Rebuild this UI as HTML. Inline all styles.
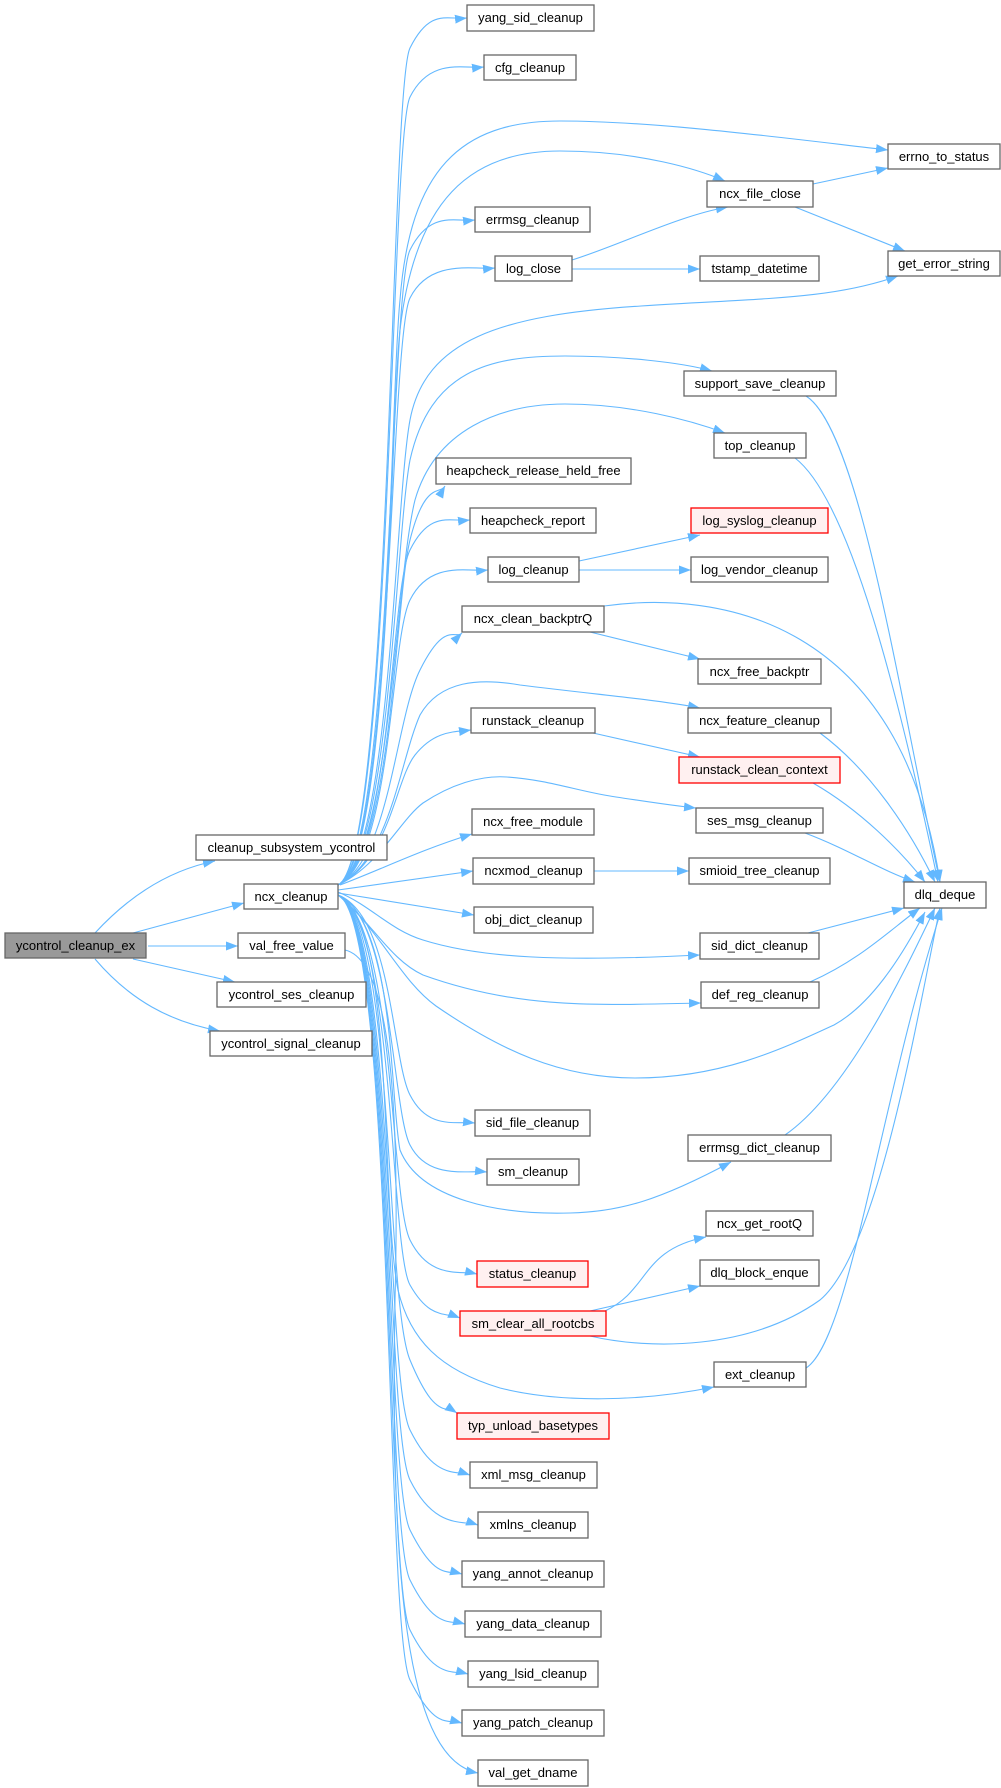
<!DOCTYPE html>
<html><head><meta charset="utf-8"><style>
html,body{margin:0;padding:0;background:#fff;}
svg{display:block;}
text{font-family:"Liberation Sans",Arial,sans-serif;font-size:13px;fill:#000;}
.n{fill:#fff;stroke:#666;stroke-width:1.3;}
.r{fill:#fff0f0;stroke:#f00;stroke-width:1.3;}
.m{fill:#999;stroke:#666;stroke-width:1.3;}
.e{fill:none;stroke:#63b8ff;stroke-width:1.1;marker-end:url(#a);}
</style></head><body>
<svg width="1001" height="1788" viewBox="0 0 1001 1788" xmlns="http://www.w3.org/2000/svg">
<defs><marker id="a" markerUnits="userSpaceOnUse" markerWidth="13" markerHeight="10" refX="12" refY="4.5" orient="auto"><path d="M0,0 L12,4.5 L0,9 z" fill="#63b8ff"/></marker></defs>
<g>
<path class="e" d="M95,933 C130,895 170,870 215,861"/>
<path class="e" d="M133,933 L244,903"/>
<path class="e" d="M148,946 L238,946"/>
<path class="e" d="M133,959 L235,982"/>
<path class="e" d="M95,959 C130,1000 170,1022 220,1031"/>
<path class="e" d="M345,950 C390,960 400,1100 395,1300 C390,1600 410,1760 478,1773"/>

<path class="e" d="M338,885 C392,860 390,88 410,48 S447,20 467,18"/>
<path class="e" d="M338,885 C392,860 390,137 410,97 S464,69 484,67"/>
<path class="e" d="M338,885 C392,860 390,290 410,250 S455,222 475,220"/>
<path class="e" d="M338,885 C392,860 390,338 410,298 S475,270 495,268"/>
<path class="e" d="M338,885 C392,860 395,600 410,540 S440,495 445,486"/>
<path class="e" d="M338,885 C392,860 390,590 410,550 S450,522 470,520"/>
<path class="e" d="M338,885 C392,860 390,640 410,600 S468,572 488,570"/>
<path class="e" d="M338,885 C390,860 395,720 420,670 S455,640 462,633"/>
<path class="e" d="M338,885 C390,860 395,780 415,755 S455,732 471,730"/>
<path class="e" d="M340,885 C380,870 420,850 472,834"/>
<path class="e" d="M338,890 L473,871"/>
<path class="e" d="M338,893 L474,915"/>

<path class="e" d="M338,885 C390,860 390,400 400,300 C410,170 460,121 560,121 C660,121 800,140 888,150"/>
<path class="e" d="M338,885 C390,860 390,420 400,330 C415,200 470,151 560,151 C640,151 700,170 725,181"/>
<path class="e" d="M338,885 C390,860 395,500 410,420 C425,340 500,315 641,306 C760,298 830,300 898,276"/>
<path class="e" d="M338,885 C390,860 395,540 410,460 C430,370 490,356 565,356 C620,356 680,362 712,371"/>
<path class="e" d="M338,885 C390,860 395,580 415,500 C435,430 500,404 565,404 C630,404 690,420 725,433"/>
<path class="e" d="M338,885 C390,860 400,760 420,715 C440,680 480,678 520,685 C600,695 660,700 700,708"/>
<path class="e" d="M338,885 C380,865 400,820 423,803 C450,785 480,775 507,777 C550,780 580,792 616,797 C650,802 675,806 696,808"/>
<path class="e" d="M338,892 C370,905 390,930 423,940 C480,958 560,962 700,955"/>
<path class="e" d="M338,895 C370,920 390,960 423,975 C520,1010 600,1005 701,1003"/>
<path class="e" d="M338,895 C380,930 400,980 436,1006 C500,1050 560,1078 635,1078 C720,1078 780,1050 834,1025 C870,1005 900,960 925,912"/>
<path class="e" d="M338,895 C392,915 392,1060 410,1095 S455,1121 475,1123"/>
<path class="e" d="M338,895 C392,915 392,1110 410,1145 S467,1170 487,1172"/>
<path class="e" d="M338,895 C395,920 390,1100 400,1150 C420,1200 500,1215 570,1213 C620,1212 660,1200 731,1162"/>
<path class="e" d="M338,895 C395,920 390,1200 410,1240 S460,1270 477,1274"/>
<path class="e" d="M338,895 C395,920 390,1250 410,1285 S445,1312 460,1318"/>
<path class="e" d="M338,895 C395,920 380,1200 398,1290 C410,1340 440,1370 500,1388 C560,1403 640,1402 714,1387"/>
<path class="e" d="M338,895 C395,920 385,1300 410,1360 S445,1405 457,1413"/>
<path class="e" d="M338,895 C395,920 385,1380 410,1430 S455,1470 470,1475"/>
<path class="e" d="M338,895 C395,920 385,1430 410,1480 S463,1520 478,1525"/>
<path class="e" d="M338,895 C395,920 385,1480 410,1530 S447,1570 462,1574"/>
<path class="e" d="M338,895 C395,920 385,1530 410,1580 S450,1620 465,1624"/>
<path class="e" d="M338,895 C395,920 385,1580 410,1630 S453,1670 468,1674"/>
<path class="e" d="M338,895 C395,920 385,1630 410,1680 S447,1719 462,1723"/>

<path class="e" d="M813,184 L888,168"/>
<path class="e" d="M795,207 L905,251"/>
<path class="e" d="M572,260 C620,245 680,215 728,207"/>
<path class="e" d="M572,269 L700,269"/>
<path class="e" d="M806,396 C860,430 900,700 940,882"/>
<path class="e" d="M795,458 C850,500 900,700 938,882"/>
<path class="e" d="M579,561 L700,535"/>
<path class="e" d="M579,570 L691,570"/>
<path class="e" d="M604,606 C720,590 900,620 940,882"/>
<path class="e" d="M590,632 L700,659"/>
<path class="e" d="M820,733 C870,770 910,830 935,882"/>
<path class="e" d="M593,733 L700,757"/>
<path class="e" d="M813,783 C860,810 900,850 925,882"/>
<path class="e" d="M805,833 C850,850 880,870 915,882"/>
<path class="e" d="M594,871 L689,871"/>
<path class="e" d="M808,933 L904,908"/>
<path class="e" d="M810,982 C860,960 890,930 920,908"/>
<path class="e" d="M785,1135 C850,1090 910,960 935,908"/>
<path class="e" d="M605,1311 C650,1290 640,1250 706,1237"/>
<path class="e" d="M590,1311 L700,1286"/>
<path class="e" d="M590,1336 C650,1350 750,1350 820,1300 C880,1250 920,1000 940,908"/>
<path class="e" d="M806,1368 C850,1340 880,1100 942,908"/>
</g>
<g text-anchor="middle">
<rect class="m" x="5" y="933" width="141" height="25"/><text x="75.5" y="950">ycontrol_cleanup_ex</text>
<rect class="n" x="196" y="835" width="191" height="25"/><text x="291.5" y="852">cleanup_subsystem_ycontrol</text>
<rect class="n" x="244" y="884" width="94" height="25"/><text x="291" y="901">ncx_cleanup</text>
<rect class="n" x="238" y="933" width="107" height="25"/><text x="291.5" y="950">val_free_value</text>
<rect class="n" x="217" y="982" width="149" height="25"/><text x="291.5" y="999">ycontrol_ses_cleanup</text>
<rect class="n" x="210" y="1031" width="162" height="25"/><text x="291" y="1048">ycontrol_signal_cleanup</text>

<rect class="n" x="467" y="5" width="127" height="26"/><text x="530.5" y="22">yang_sid_cleanup</text>
<rect class="n" x="484" y="55" width="92" height="25"/><text x="530" y="72">cfg_cleanup</text>
<rect class="n" x="475" y="207" width="115" height="25"/><text x="532.5" y="224">errmsg_cleanup</text>
<rect class="n" x="495" y="256" width="77" height="25"/><text x="533.5" y="273">log_close</text>
<rect class="n" x="436" y="458" width="195" height="26"/><text x="533.5" y="475">heapcheck_release_held_free</text>
<rect class="n" x="470" y="508" width="126" height="25"/><text x="533" y="525">heapcheck_report</text>
<rect class="n" x="488" y="557" width="91" height="25"/><text x="533.5" y="574">log_cleanup</text>
<rect class="n" x="462" y="606" width="142" height="26"/><text x="533" y="623">ncx_clean_backptrQ</text>
<rect class="n" x="471" y="708" width="124" height="25"/><text x="533" y="725">runstack_cleanup</text>
<rect class="n" x="472" y="809" width="122" height="26"/><text x="533" y="826">ncx_free_module</text>
<rect class="n" x="473" y="858" width="121" height="26"/><text x="533.5" y="875">ncxmod_cleanup</text>
<rect class="n" x="474" y="907" width="119" height="26"/><text x="533.5" y="924">obj_dict_cleanup</text>
<rect class="n" x="475" y="1110" width="115" height="26"/><text x="532.5" y="1127">sid_file_cleanup</text>
<rect class="n" x="487" y="1159" width="92" height="26"/><text x="533" y="1176">sm_cleanup</text>
<rect class="r" x="477" y="1261" width="111" height="26"/><text x="532.5" y="1278">status_cleanup</text>
<rect class="r" x="460" y="1311" width="146" height="25"/><text x="533" y="1328">sm_clear_all_rootcbs</text>
<rect class="r" x="457" y="1413" width="152" height="26"/><text x="533" y="1430">typ_unload_basetypes</text>
<rect class="n" x="470" y="1462" width="127" height="26"/><text x="533.5" y="1479">xml_msg_cleanup</text>
<rect class="n" x="478" y="1512" width="110" height="26"/><text x="533" y="1529">xmlns_cleanup</text>
<rect class="n" x="462" y="1561" width="142" height="26"/><text x="533" y="1578">yang_annot_cleanup</text>
<rect class="n" x="465" y="1611" width="136" height="26"/><text x="533" y="1628">yang_data_cleanup</text>
<rect class="n" x="468" y="1661" width="130" height="26"/><text x="533" y="1678">yang_lsid_cleanup</text>
<rect class="n" x="462" y="1710" width="142" height="26"/><text x="533" y="1727">yang_patch_cleanup</text>
<rect class="n" x="478" y="1760" width="110" height="26"/><text x="533" y="1777">val_get_dname</text>

<rect class="n" x="707" y="181" width="106" height="26"/><text x="760" y="198">ncx_file_close</text>
<rect class="n" x="700" y="256" width="119" height="25"/><text x="759.5" y="273">tstamp_datetime</text>
<rect class="n" x="684" y="371" width="152" height="25"/><text x="760" y="388">support_save_cleanup</text>
<rect class="n" x="714" y="433" width="92" height="25"/><text x="760" y="450">top_cleanup</text>
<rect class="r" x="691" y="508" width="137" height="25"/><text x="759.5" y="525">log_syslog_cleanup</text>
<rect class="n" x="691" y="557" width="137" height="25"/><text x="759.5" y="574">log_vendor_cleanup</text>
<rect class="n" x="698" y="659" width="123" height="25"/><text x="759.5" y="676">ncx_free_backptr</text>
<rect class="n" x="688" y="708" width="143" height="25"/><text x="759.5" y="725">ncx_feature_cleanup</text>
<rect class="r" x="679" y="757" width="161" height="26"/><text x="759.5" y="774">runstack_clean_context</text>
<rect class="n" x="696" y="808" width="127" height="25"/><text x="759.5" y="825">ses_msg_cleanup</text>
<rect class="n" x="689" y="858" width="141" height="26"/><text x="759.5" y="875">smioid_tree_cleanup</text>
<rect class="n" x="700" y="933" width="119" height="26"/><text x="759.5" y="950">sid_dict_cleanup</text>
<rect class="n" x="701" y="982" width="118" height="26"/><text x="760" y="999">def_reg_cleanup</text>
<rect class="n" x="688" y="1135" width="143" height="26"/><text x="759.5" y="1152">errmsg_dict_cleanup</text>
<rect class="n" x="706" y="1211" width="107" height="25"/><text x="759.5" y="1228">ncx_get_rootQ</text>
<rect class="n" x="700" y="1260" width="119" height="26"/><text x="759.5" y="1277">dlq_block_enque</text>
<rect class="n" x="714" y="1362" width="92" height="25"/><text x="760" y="1379">ext_cleanup</text>

<rect class="n" x="888" y="144" width="112" height="25"/><text x="944" y="161">errno_to_status</text>
<rect class="n" x="888" y="251" width="112" height="25"/><text x="944" y="268">get_error_string</text>
<rect class="n" x="904" y="882" width="82" height="26"/><text x="945" y="899">dlq_deque</text>
</g>
</svg>
</body></html>
